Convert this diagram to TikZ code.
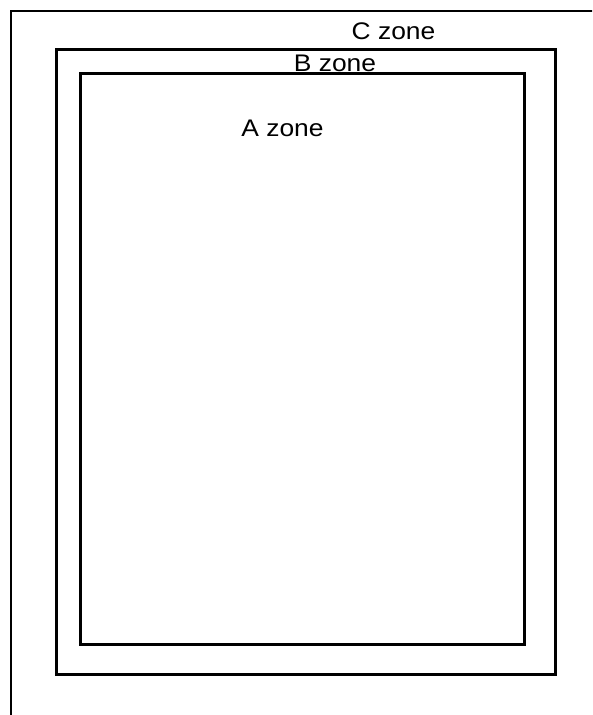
\documentclass[tikz,border=0pt]{standalone}
\usepackage{fontspec}
\setmainfont{Liberation Sans}
\begin{document}
\begin{tikzpicture}[x=1pt,y=-1pt,
  zonebox/.style={draw=black,line width=3pt},
  zonelabel/.style={anchor=base,inner sep=0pt,xscale=1.1,font=\fontsize{24}{26}\selectfont}]
\useasboundingbox (0,0) rectangle (592,715);
\fill[white] (0,0) rectangle (592,715);
\begin{scope}
\clip (0,0) rectangle (592,715);
\draw[draw=black,line width=2.5pt] (11,11) rectangle (620,740);
\end{scope}
\draw[zonebox] (56.5,49) rectangle (555,674.5);
\draw[zonebox] (80,73) rectangle (524.5,644.5);
\node[zonelabel] (c) at (393.5,39) {C zone};
\node[zonelabel] (b) at (335,71) {B zone};
\node[zonelabel] (a) at (282.5,136) {A zone};
\end{tikzpicture}
\end{document}
